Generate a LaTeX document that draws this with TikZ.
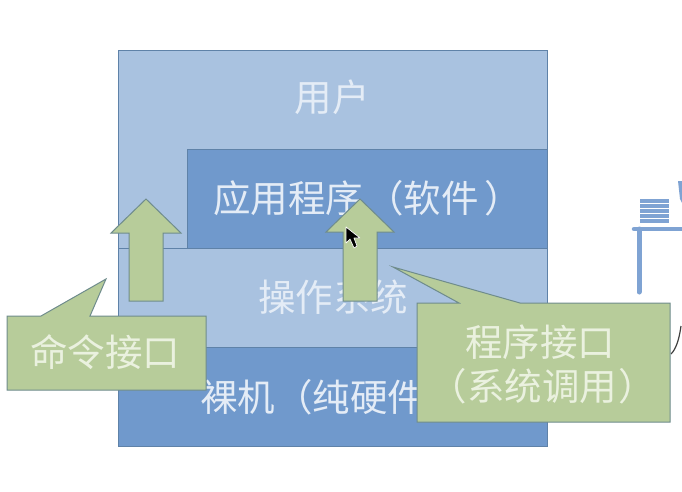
\documentclass[tikz,border=0pt]{standalone}
\usepackage{fontspec}
\setmainfont{Noto Sans CJK SC}
\definecolor{lightblue}{HTML}{A9C2E0}
\definecolor{darkblue}{HTML}{7099CC}
\definecolor{greenfill}{HTML}{B7CC9A}
\definecolor{edgeblue}{HTML}{5F82A8}
\definecolor{edgegreen}{HTML}{6F8C8C}
\definecolor{bluetext}{HTML}{E4ECF6}
\definecolor{greentext}{HTML}{EAF1DF}
\definecolor{deskblue}{HTML}{7FA3D3}
\tikzset{
  lightlayer/.style={fill=lightblue,draw=edgeblue,line width=0.9pt},
  darklayer/.style={fill=darkblue,draw=edgeblue,line width=0.9pt},
  greenshape/.style={fill=greenfill,draw=edgegreen,line width=1pt,line join=miter},
  layertext/.style={text=bluetext,font=\fontsize{37.5}{42}\selectfont,inner sep=0pt},
  callouttext/.style={text=greentext,font=\fontsize{37.5}{44}\selectfont,inner sep=0pt,align=center},
  deskline/.style={draw=deskblue,line cap=round}
}
\begin{document}
\begin{tikzpicture}[x=1pt,y=-1pt]
\useasboundingbox (0,0) rectangle (682,492);
\fill[white] (0,0) rectangle (682,492);
% layers
\draw[lightlayer] (118,50) rectangle (547,248);
\draw[darklayer] (187,149) rectangle (547,248);
\draw[lightlayer] (118,248) rectangle (547,347);
\draw[darklayer] (118,347) rectangle (547,446);
\node[layertext] (user) at (332,97) {用户};
\node[layertext,anchor=west] (app) at (213,198) {应用程序\kern3pt（软件\kern6pt）};
\node[layertext] (os) at (333,297) {操作系统};
\node[layertext,anchor=west] (bare) at (200,397) {裸机（纯硬件）};
% desk fragment
\foreach \yy in {201,206,211,216,221}{
  \draw[deskblue,line width=4pt] (640,\yy) -- (669,\yy);
}
\draw[deskline,line width=4.5pt] (634,229) -- (682,229);
\draw[deskline,line width=5pt] (639,229) -- (639,292);
\fill[deskblue] (678,181) -- (682,181) -- (682,203) -- (680,199) -- cycle;
\draw[black!75,line width=1.2pt] (681,326) .. controls (679,340) and (676,349) .. (671,354);
% arrows
\draw[greenshape] (146,199) -- (181,233) -- (163,233) -- (163,301) -- (129,301) -- (129,233) -- (111,233) -- cycle;
\draw[greenshape] (360,199) -- (394,232) -- (377,232) -- (377,301) -- (343,301) -- (343,232) -- (326,232) -- cycle;
% cursor
\draw[white,fill=black,line width=0.7pt,line join=round] (346,227) -- (346,243) -- (350,239) -- (354,248) -- (357,246) -- (354,238) -- (360,238) -- cycle;
% callouts
\draw[greenshape] (7,316) -- (41,316) -- (106,279) -- (90,316) -- (206,316) -- (206,390) -- (7,390) -- cycle;
\node[callouttext] (cmd) at (105,352) {命令接口};
\draw[greenshape] (417,303) -- (459,303) -- (393,267) -- (520,303) -- (670,303) -- (670,422) -- (417,422) -- cycle;
\node[callouttext] (prog) at (540,364) {程序接口\\\kern6pt（系统调用\kern2pt）};
\end{tikzpicture}
\end{document}
